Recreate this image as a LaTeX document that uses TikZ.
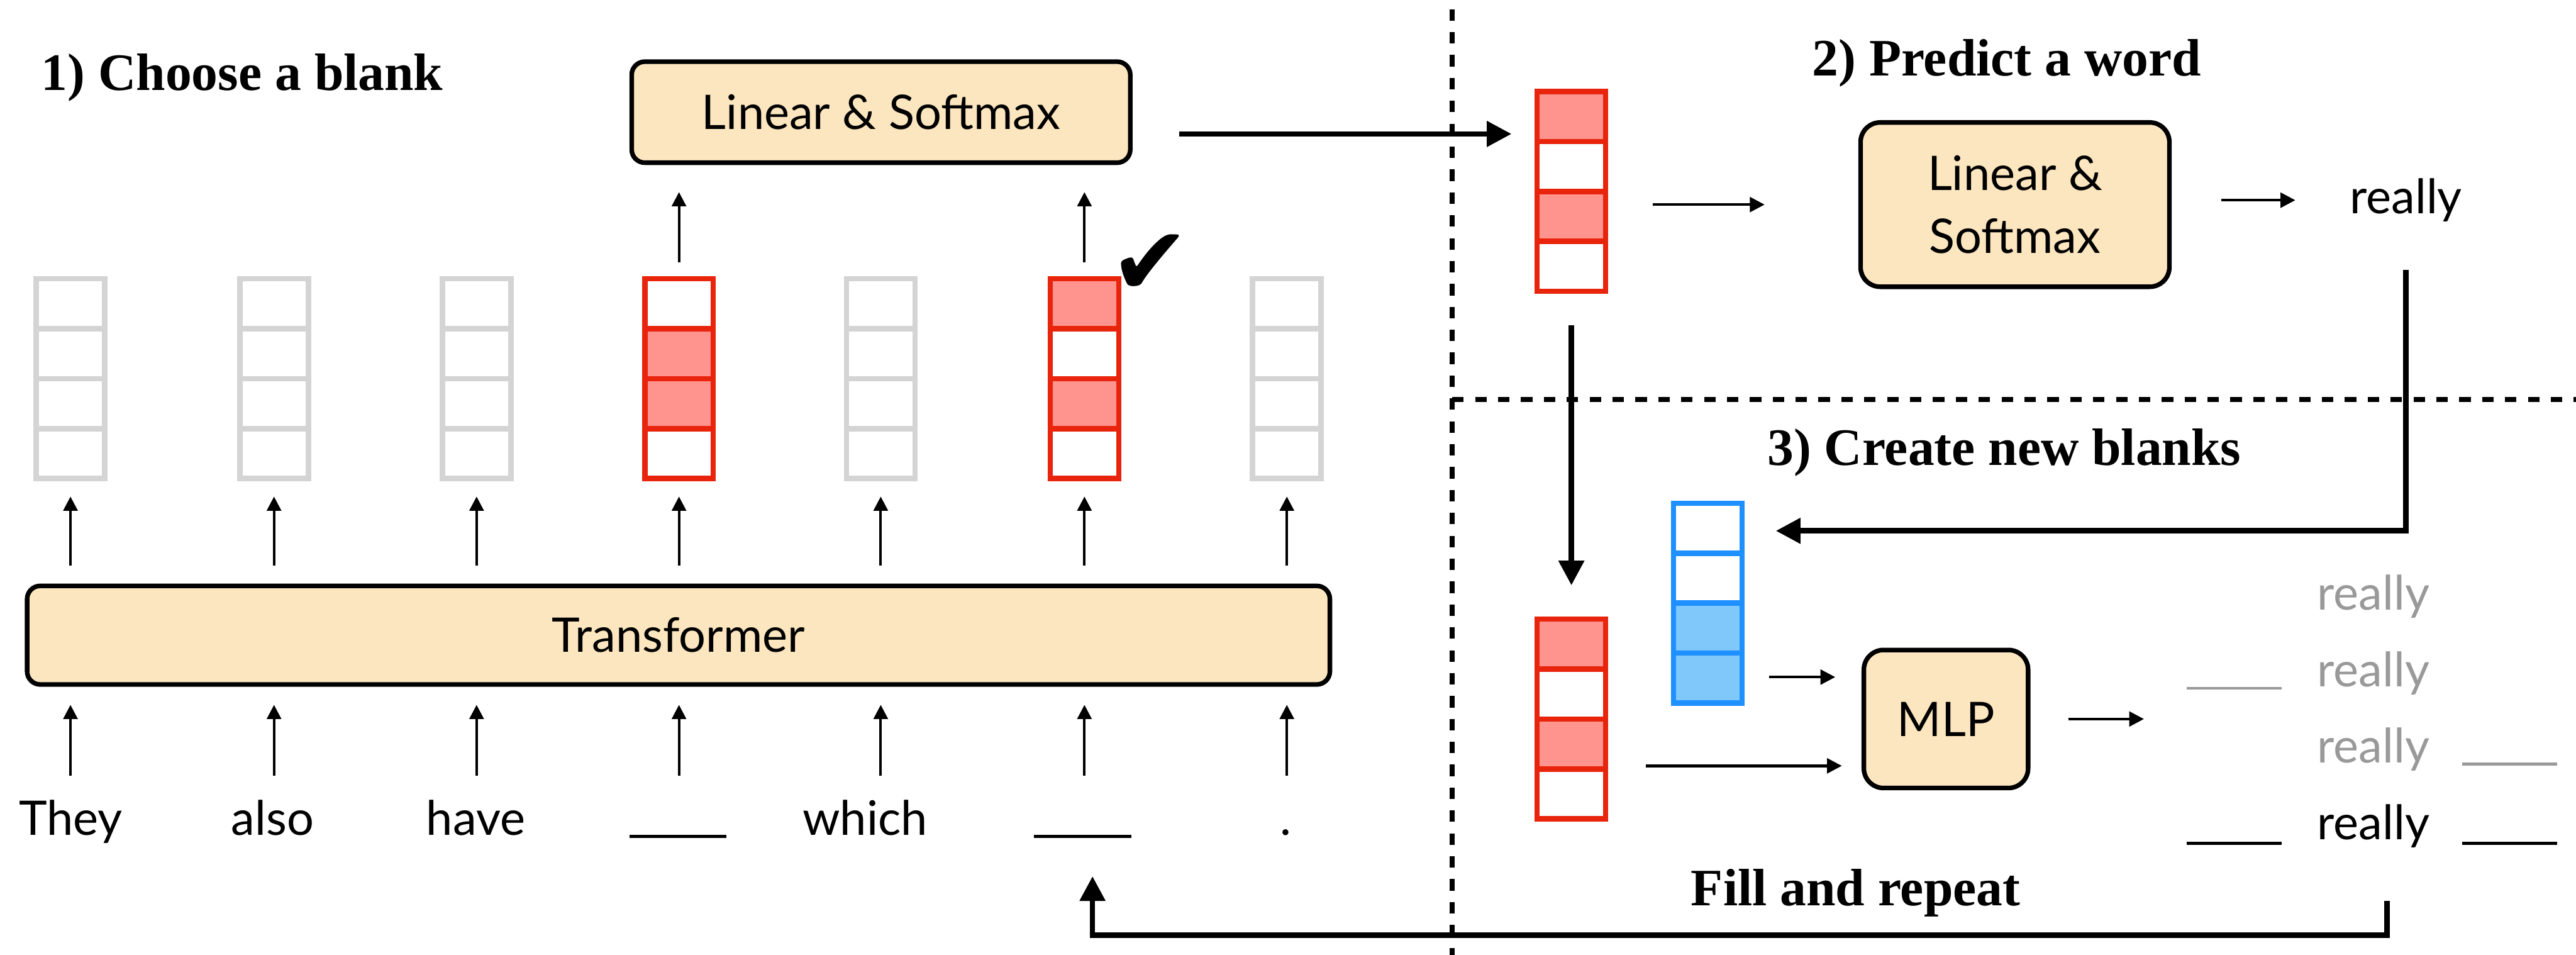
\documentclass[tikz,border=0pt]{standalone}
\usepackage{fontspec}
\setmainfont{Liberation Serif}
\newfontfamily\lato{Lato}
\newfontfamily\dejavu{DejaVu Sans}
\usetikzlibrary{arrows.meta,calc}
\definecolor{boxfill}{RGB}{252,230,191}
\definecolor{vred}{RGB}{232,36,12}
\definecolor{vpink}{RGB}{255,148,142}
\definecolor{vgray}{RGB}{212,212,212}
\definecolor{vblue}{RGB}{30,144,255}
\definecolor{vlblue}{RGB}{128,200,250}
\definecolor{tgray}{RGB}{153,153,153}
\tikzset{
 box/.style={draw=black, line width=2.8pt, fill=boxfill, rounded corners=8pt, inner sep=0pt, font=\lato\fontsize{29}{38}\selectfont},
 word/.style={inner sep=0pt, anchor=base, font=\lato\fontsize{29}{35}\selectfont},
 title/.style={inner sep=0pt, anchor=base, font=\fontsize{32}{38}\selectfont\bfseries},
 thinarrow/.style={line width=1.5pt, -{Triangle[length=8.6pt,width=8.6pt]}},
 midarrow/.style={line width=1.7pt, -{Triangle[length=9pt,width=9pt]}},
 bigarrow/.style={line width=3.3pt, -{Triangle[length=15pt,width=15pt]}},
 sepline/.style={line width=3.2pt},
}
\newcommand\vecbox[7]{%
 \node[inner sep=0pt, outer sep=0pt, minimum width=41.7pt, minimum height=121.5pt] (#1) at (#2) {};
 \fill[#4] (#1.north west) rectangle ($(#1.north east)+(0,30.375)$);
 \fill[#5] ($(#1.north west)+(0,30.375)$) rectangle ($(#1.north east)+(0,60.75)$);
 \fill[#6] ($(#1.north west)+(0,60.75)$) rectangle ($(#1.north east)+(0,91.125)$);
 \fill[#7] ($(#1.north west)+(0,91.125)$) rectangle (#1.south east);
 \draw[#3, line width=3.3pt] (#1.north west) rectangle (#1.south east);
 \foreach \k in {30.375,60.75,91.125} \draw[#3, line width=3.3pt] ($(#1.north west)+(0,\k)$) -- ($(#1.north east)+(0,\k)$);
}
\begin{document}
\begin{tikzpicture}[x=1pt,y=-1pt]
\fill[white] (0,0) rectangle (1568,581);
\useasboundingbox (0,0) rectangle (1568,581);
% separators
\draw[sepline, dash pattern=on 6.97pt off 6.96pt, dash phase=8.33pt] (884,0) -- (884,581);
\draw[sepline, dash pattern=on 6.97pt off 6.96pt] (884,243) -- (1568,243);
% titles
\node[title, anchor=base west] (t1) at (25,55) {1) Choose a blank};
\node[title] (t2) at (1221.5,46.3) {2) Predict a word};
\node[title] (t3) at (1220,283) {3) Create new blanks};
\node[title] (t4) at (1129.5,551) {Fill and repeat};
% boxes
\node[box, minimum width=303.5pt, minimum height=61.5pt] (ls1) at (536.25,68.25) {Linear \& Softmax};
\node[box, minimum width=793pt, minimum height=60pt] (tr) at (413,386.5) {Transformer};
\node[box, rounded corners=12pt, minimum width=188pt, minimum height=100pt, align=center] (ls2) at (1226.5,124.5) {Linear \&\\Softmax};
\node[box, rounded corners=12pt, minimum width=100pt, minimum height=84pt] (mlp) at (1184.5,437.5) {MLP};
% left vectors
\vecbox{v1}{42.9,230.4}{vgray}{white}{white}{white}{white}
\vecbox{v2}{166.8,230.4}{vgray}{white}{white}{white}{white}
\vecbox{v3}{290.1,230.4}{vgray}{white}{white}{white}{white}
\vecbox{v4}{413.3,230.4}{vred}{white}{vpink}{vpink}{white}
\vecbox{v5}{536.1,230.4}{vgray}{white}{white}{white}{white}
\vecbox{v6}{660.1,230.4}{vred}{vpink}{white}{vpink}{white}
\vecbox{v7}{783.3,230.4}{vgray}{white}{white}{white}{white}
% right vectors
\vecbox{rv1}{956.5,116.5}{vred}{vpink}{white}{vpink}{white}
\vecbox{rv2}{956.5,437.5}{vred}{vpink}{white}{vpink}{white}
\vecbox{bv}{1039.5,367}{vblue}{white}{white}{vlblue}{vlblue}
% check mark
\node[inner sep=0pt, font=\dejavu\fontsize{58}{58}\selectfont] (chk) at (700,161) {✔};
% words
\node[word] (w1) at (43,508) {They};
\node[word] (w2) at (166,508) {also};
\node[word] (w3) at (289.6,508) {have};
\node[word] (w4) at (412.5,508) {\rule[-1.8pt]{59pt}{1.8pt}};
\node[word] (w5) at (526.6,508) {which};
\node[word] (w6) at (659,508) {\rule[-1.8pt]{59pt}{1.8pt}};
\node[word] (w7) at (782.6,508) {.};
% right texts
\node[word] (rl) at (1464.5,130) {really};
\node[word, text=tgray] (r1) at (1444.75,371) {really};
\node[word, text=tgray] (r2) at (1444.75,418) {really};
\node[word, text=tgray] (r3) at (1444.75,464) {really};
\node[word] (r4) at (1444.75,511) {really};
\node[word, text=tgray] (b2l) at (1360,418) {\rule[-1.7pt]{58pt}{1.7pt}};
\node[word, text=tgray] (b3r) at (1527.5,464) {\rule[-1.7pt]{58pt}{1.7pt}};
\node[word] (b4l) at (1360,511) {\rule[-3pt]{58pt}{1.8pt}};
\node[word] (b4r) at (1527.5,511) {\rule[-3pt]{58pt}{1.8pt}};
% arrows: words -> transformer -> vectors
\foreach \v in {v1,v2,v3,v4,v5,v6,v7}{
 \draw[thinarrow, shorten >=11pt] ($(tr.south -| \v)+(0,54)$) -- (tr.south -| \v);
 \draw[thinarrow, shorten <=11pt, shorten >=11pt] (tr.north -| \v) -- (\v.south);
}
\draw[thinarrow, shorten <=10pt, shorten >=16.5pt] (v4.north) -- (v4.north |- ls1.south);
\draw[thinarrow, shorten <=10pt, shorten >=16.5pt] (v6.north) -- (v6.north |- ls1.south);
% big arrow ls1 -> rv1
\coordinate (a1) at ($(ls1.east)+(0,13.25)$);
\draw[bigarrow, shorten <=28.3pt, shorten >=15.6pt] (a1) -- (a1 -| rv1.west);
% section 2
\draw[midarrow, shorten <=28.6pt, shorten >=57pt] (rv1.east |- ls2.west) -- (ls2.west);
\draw[midarrow, shorten <=30pt, shorten >=33pt] (ls2.east |- rl.west) -- (rl.west);
\draw[bigarrow, shorten <=29pt, shorten >=20.6pt] (rl.south) |- ($(bv.east)+(0,-44)$);
\draw[bigarrow, shorten <=20.6pt, shorten >=20.6pt] (rv1.south) -- (rv2.north);
% section 3
\coordinate (bo) at ($(bv.east)+(0,45)$);
\draw[midarrow, shorten <=16.6pt, shorten >=16pt] (bo) -- (bo -| mlp.west);
\coordinate (ro) at ($(rv2.east)+(0,28.5)$);
\draw[midarrow, shorten <=24.6pt, shorten >=12pt] (ro) -- (ro -| mlp.west);
\coordinate (mlpout) at (1305,437.5);
\draw[midarrow, shorten <=23pt] (mlp.east) -- (mlpout);
% feedback
\coordinate (fbs) at (1453,548);
\coordinate (fbc) at (665,569);
\draw[bigarrow, shorten >=23.2pt] (fbs) |- (fbc) -- (fbc |- w6.south);
\end{tikzpicture}
\end{document}
